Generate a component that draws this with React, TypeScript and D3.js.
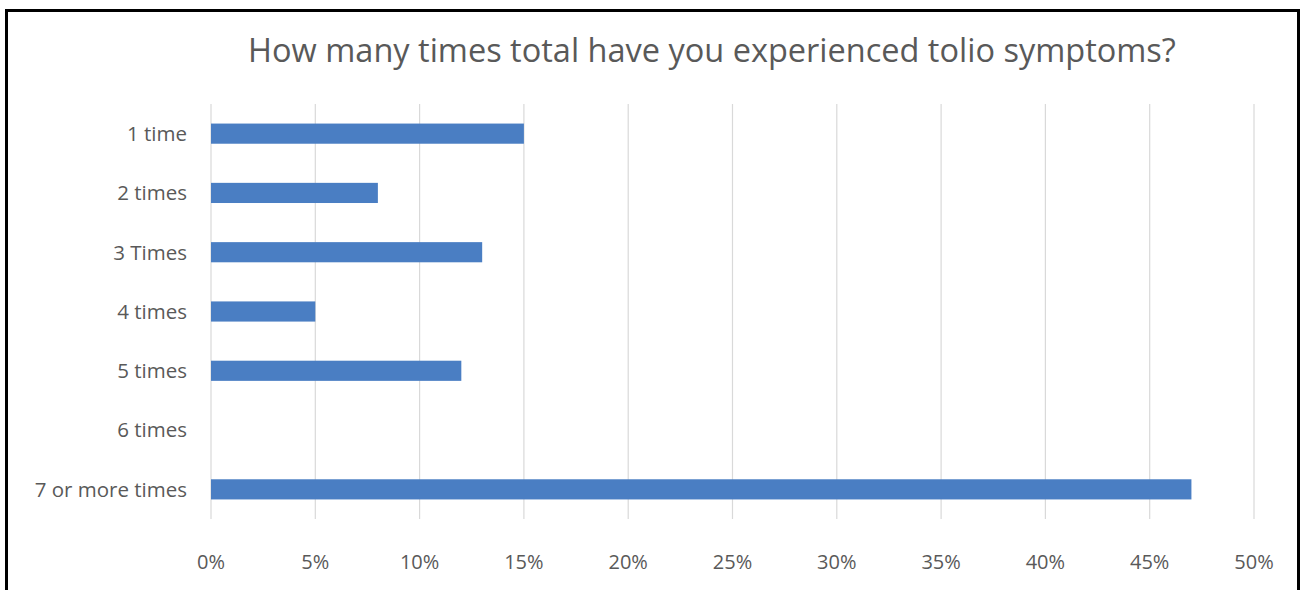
import React from "react";
import * as d3 from "d3";

const categories = ["1 time", "2 times", "3 Times", "4 times", "5 times", "6 times", "7 or more times"];
const values = [15, 8, 13, 5, 12, 0, 47];
const xTicks = [0, 5, 10, 15, 20, 25, 30, 35, 40, 45, 50];
const title = "How many times total have you experienced tolio symptoms?";

const W = 1306;
const H = 590;
const margin = { left: 211, right: 52, top: 104, bottom: 71 };
const font = "'Open Sans', 'Noto Sans', sans-serif";
const textColor = "#595959";

export default function App() {
  const x = d3.scaleLinear().domain([0, 50]).range([margin.left, W - margin.right]);
  const y = d3
    .scaleBand<string>()
    .domain(categories)
    .range([margin.top, H - margin.bottom])
    .paddingInner(0.66)
    .paddingOuter(0.33);
  const bw = y.bandwidth();
  return (
    <svg
      width={W}
      height={H}
      style={{ position: "absolute", left: 0, top: 0, background: "#fff" }}
    >
      <rect x={0} y={0} width={W} height={H} fill="#fff" />
      <rect x={6.5} y={10.5} width={1292} height={600} fill="none" stroke="#000" strokeWidth={3} />
      <text
        x={712}
        y={62}
        textAnchor="middle"
        fontFamily={font}
        fontSize={32.5}
        fill={textColor}
      >
        {title}
      </text>
      {xTicks.map((t) => (
        <g key={t}>
          <line
            x1={x(t)}
            x2={x(t)}
            y1={margin.top}
            y2={H - margin.bottom}
            stroke="#d9d9d9"
            strokeWidth={1.2}
          />
          <text
            x={x(t)}
            y={569}
            textAnchor="middle"
            fontFamily={font}
            fontSize={20}
            fill={textColor}
          >
            {t + "%"}
          </text>
        </g>
      ))}
      {categories.map((c, i) => (
        <g key={c}>
          <rect
            x={x(0)}
            y={y(c)!}
            width={x(values[i]) - x(0)}
            height={bw}
            fill="#4A7EC3"
          />
          <text
            x={187}
            y={y(c)! + bw / 2}
            dy="0.36em"
            textAnchor="end"
            fontFamily={font}
            fontSize={20.5}
            fill={textColor}
          >
            {c}
          </text>
        </g>
      ))}
    </svg>
  );
}
